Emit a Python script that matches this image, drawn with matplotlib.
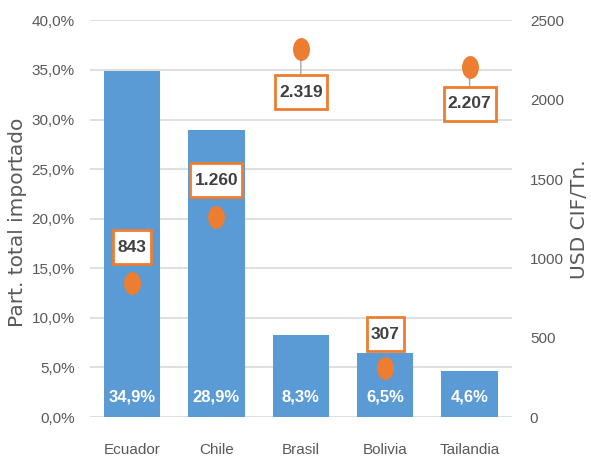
import matplotlib
matplotlib.use("Agg")
import matplotlib.pyplot as plt
from matplotlib.ticker import FuncFormatter
from matplotlib.path import Path
from matplotlib.transforms import Affine2D

plt.rcParams['font.family'] = ['Liberation Sans', 'DejaVu Sans']

categories = ["Ecuador", "Chile", "Brasil", "Bolivia", "Tailandia"]
share_pct = [34.9, 28.9, 8.3, 6.5, 4.6]
price_usd = [843, 1260, 2319, 307, 2207]
price_labels = ["843", "1.260", "2.319", "307", "2.207"]
share_labels = ["34,9%", "28,9%", "8,3%", "6,5%", "4,6%"]
label_offsets_px = [36, 37, -43, 34, -37]

bar_color = "#5B9BD5"
dot_color = "#ED7D31"
text_gray = "#595959"


def tall_box(x0, y0, width, height, mutation_scale):
    px = 0.24 * mutation_scale
    py = 0.55 * mutation_scale
    verts = [(x0 - px, y0 - py), (x0 + width + px, y0 - py),
             (x0 + width + px, y0 + height + py), (x0 - px, y0 + height + py),
             (x0 - px, y0 - py)]
    return Path(verts, closed=True)


ellipse = Path.unit_circle().transformed(Affine2D().scale(0.74, 1.0))

fig = plt.figure(figsize=(5.91, 4.58), dpi=100)
ax = fig.add_axes([0.152, 0.0895, 0.714, 0.866])
ax2 = ax.twinx()

x = list(range(len(categories)))
ax.bar(x, share_pct, width=0.67, color=bar_color, zorder=2)
ax.set_xlim(-0.5, 4.5)
ax.set_ylim(0, 40)
ax.set_yticks(range(0, 41, 5))
ax.yaxis.set_major_formatter(FuncFormatter(lambda v, p: f"{v:.1f}%".replace('.', ',')))
ax.grid(axis='y', color="#D9D9D9", linewidth=1.2, zorder=0)
ax.set_axisbelow(True)
ax.set_xticks(x)
ax.set_xticklabels(categories)
for s in ax.spines.values():
    s.set_visible(False)
for s in ax2.spines.values():
    s.set_visible(False)
ax.tick_params(axis='both', length=0, colors=text_gray, labelsize=11)
ax.tick_params(axis='x', pad=19)
ax.tick_params(axis='y', pad=11)
ax.set_ylabel("Part. total importado", color=text_gray, fontsize=14.5,
              family=['DejaVu Sans'])
ax.yaxis.set_label_coords(-0.149, 0.49)

for xi, v, lab in zip(x, share_pct, share_labels):
    ax.text(xi, 1.3, lab, ha='center', va='bottom', color='white',
            fontsize=12, fontweight='bold', zorder=4)

ax2.set_ylim(0, 2500)
ax2.set_yticks(range(0, 2501, 500))
ax2.tick_params(axis='y', length=0, colors=text_gray, labelsize=11, pad=13)
ax2.set_ylabel("USD CIF/Tn.", color=text_gray, fontsize=14.5,
               family=['DejaVu Sans'])
ax2.yaxis.set_label_coords(1.137, 0.5)

ax2.plot(x, price_usd, linestyle='none', marker=ellipse, markersize=16.5,
         color=dot_color, markeredgewidth=0, zorder=5)
for xi, v, lab, off in zip(x, price_usd, price_labels, label_offsets_px):
    arrow = None
    if off < 0:
        arrow = dict(arrowstyle='-', color='#A6A6A6', lw=1, shrinkA=0, shrinkB=0)
    ax2.annotate(lab, xy=(xi, v), xytext=(0, off), textcoords='offset pixels',
                 ha='center', va='center', fontsize=12.5, fontweight='bold',
                 color='#404040', zorder=3,
                 bbox=dict(boxstyle=tall_box, fc='white', ec=dot_color, lw=2),
                 arrowprops=arrow)

fig.savefig("out.png", dpi=100)
